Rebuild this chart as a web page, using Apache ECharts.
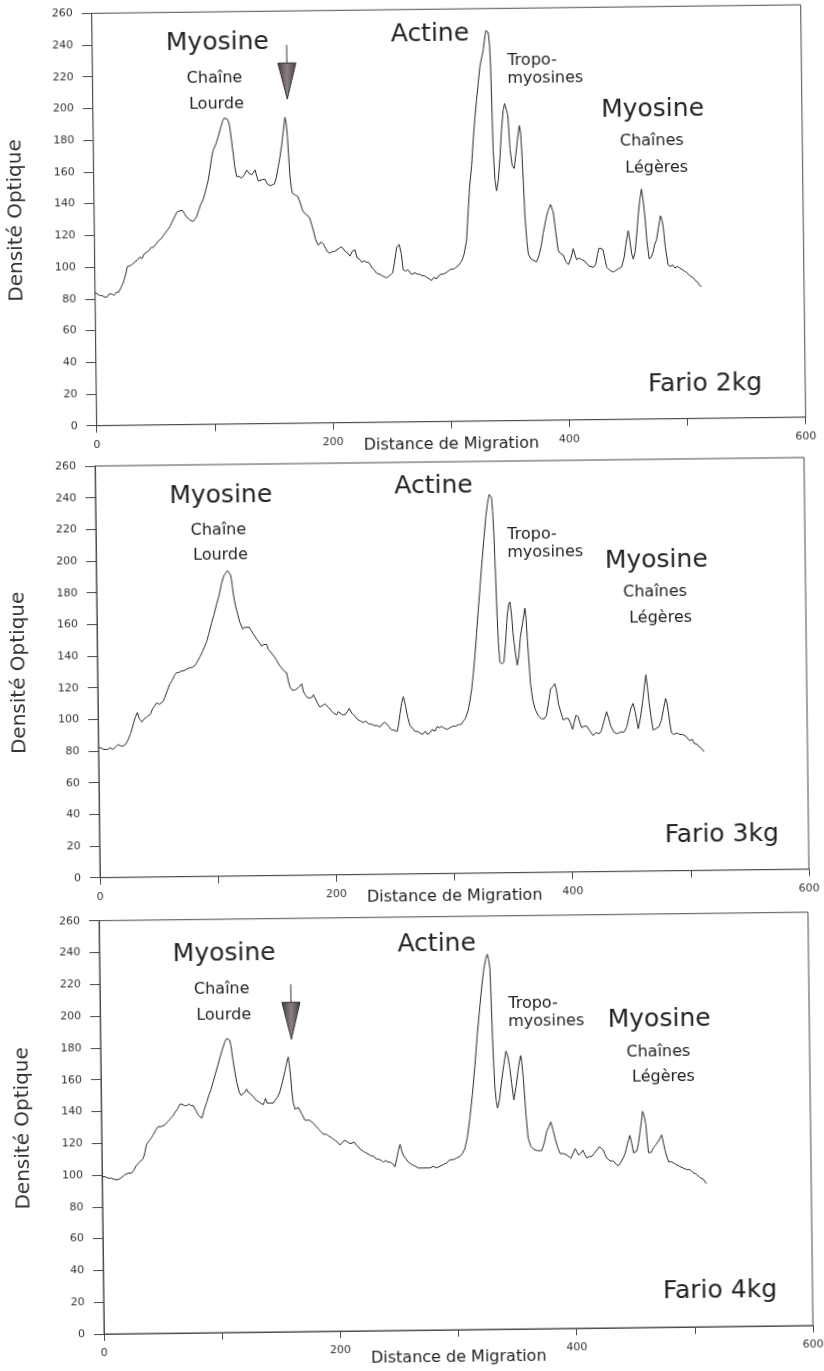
<!DOCTYPE html>
<html><head><meta charset="utf-8">
<script src="https://cdn.jsdelivr.net/npm/echarts@6/dist/echarts.min.js"></script>
<style>
html,body{margin:0;padding:0;background:#fff;width:824px;height:1371px;overflow:hidden;}
.c{position:absolute;left:0;width:824px;}
</style></head><body>
<div id="c1" class="c"></div><div id="c2" class="c"></div><div id="c3" class="c"></div>
<script>
// ---------- DATA ----------
const xTickLabels = [0, 200, 400, 600];
const yMax = 260;

// Fario 2kg
const fario2_x = [0,2,4,6,8,10,12,14,16,18,20,22,24,26,27.5,29,31,32.6,34,36,38.3,40,42,44,46,48,49.7,52,54,56,58,60,62,64,66,68,70,71.2,73,74.9,76.5,78,79.6,81,82.5,83.7,85,86.7,88.5,90.5,92.5,94.5,96.9,98.5,100,101.4,102.5,104,106,108,109.6,111,112.5,114,115.3,116.5,117.5,118.4,119.5,121,123,125.2,127.5,129.5,131.5,133.8,135.2,136.6,138,139.4,141,143,145.1,147,149.4,151,152.8,154.5,156.3,157.8,159.3,161,162.4,163.4,164.3,165.2,166,167,168,170,172.6,174.5,176.5,178.5,180.5,182.5,184,185.5,187,189.3,191.5,193.5,195.5,197,199,201,203,205,207,209,210.4,212,214,216,218,220.3,222,224,226,228,229.8,231.7,233.5,235,236.7,238.4,240,242,244,246.9,248.5,250.3,252,253.5,255.6,257.8,259.5,261,263,265,266.6,268,269.4,271,273,275,277,279,281,283,284.9,287,289,291,293,295,297.6,299.5,301.5,303.5,305.5,307.5,310.5,312.5,314.9,316.5,318,319.9,321.5,323,324.8,326.5,328,329.5,330.9,332,333.3,335.3,336.3,337,338.3,339.5,340.8,342.2,343.9,345.5,347.2,348.5,349.6,351,352.6,354.2,355.9,357.5,358.9,360.6,361.6,362.5,363.5,364.5,366,367,369,371,374,376,378,379.8,382,384,386.3,388.5,390.2,392.3,394.2,396.6,398.5,400.9,403,405,406.5,407.8,410,412,414.8,418,421.8,424,425.5,426.7,428.5,430.3,431.8,433.2,436,438.8,441,443,445.8,448,450,451.7,453,454.5,455.8,457.5,459,460.3,461.8,463.4,464.7,466,467.5,469.2,471,472.5,474,475.6,477.5,479.2,480.5,481.4,483,485.2,487,489,491,493,495,497,499,501,503.5,506,508,510,511.5,513.3];
const fario2_y = [84,83,82,82,81,81,83,83,82,84,84,87,90,95,100,99,101,100,103,104,106,105,108,109,110,112,112,114,116,117,119,121,123,125,128,131,134,135,135,135,133,131,130,129,129,128,129,131,135,139,142,147,154,161,168,173,174,177,182,187,191,193,193,192,189,182,175,170,162,156,156,155,157,160,158,157,157,160,156,153,154,154,154,151,150,150,151,155,162,168,175,185,193,189,181,168,157,149,145,144,143,139,134,132,131,129,128,121,116,112,114,113,110,108,107,108,108,109,110,111,110,108,107,105,108,109,104,103,101,102,101,101,99,97,96,94,95,93,92,91,92,93,94,100,110,112,106,96,95,96,95,93,93,94,93,93,92,92,91,90,89,91,90,92,93,93,94,95,96,96,97,98,101,105,114,132,148,161,177,190,203,214,224,229,234,240,246,245,237,223,171,152,145,151,165,183,196,200,201,193,171,161,159,168,177,186,182,170,150,129,112,105,102,101,100,104,110,118,126,132,136,131,120,107,105,104,100,98,102,108,104,101,102,101,100,97,96,98,104,108,108,107,101,96,94,93,94,95,96,102,112,119,113,104,101,106,117,128,138,145,138,128,112,101,102,105,110,113,121,128,125,121,108,97,96,97,95,96,95,94,93,92,90,89,87,86,84,83];

// Fario 3kg
const fario3_x = [0,2,4,6,8,10,12,14,16.8,19,21,23,25.3,27.5,29.8,31.5,33.3,35,37,39,41,42.6,44.5,46,48,49.7,52,55.4,57,59,61.2,63,65,67,69,71,73,75.5,78,80,82,84,85.5,87,89,90.8,92.6,94.5,97,99,101.5,103.5,105.9,108,109.5,111.2,112.5,113.7,114.8,115.7,117.3,119,121,123.3,125,127,128.9,130.5,132,133.6,135.5,137.5,139.2,141,143.4,144.8,146.1,148,150,151.7,153.8,155.9,158,160,161.3,162.7,164.5,166.9,168.5,170.5,172.6,174,175.4,177.5,179.3,181,182.5,183.8,185.5,187.8,190,192,194.9,197,199.5,201.9,203.3,204.7,207,209,211,212.6,214.8,217.4,219.5,222,224.4,226.5,229,231.5,233.5,236,238.5,240.5,242.5,244.2,246.2,248.3,250.5,253,254.4,255.5,257,258.5,260.3,262,263.8,266,268,270,272.2,274.5,276.5,278.5,280.6,282.5,285,287,288.8,290.6,292.5,295,297.6,300,302.5,305,307,309,311,313.3,314.9,316.4,318,319.6,321.1,322.8,324.5,326,328,330.2,331.6,333.2,334.2,335.2,336,336.8,337.8,338.7,339.6,340.6,342.3,344,345.5,347.2,348.4,349.6,350.8,352,353.6,355.2,356.7,358.2,360.3,362.3,363.2,364,365.2,366.3,368,370,372.5,375.3,377.5,379.5,381.5,383.2,385,386.9,388.3,389.8,391.7,393.6,395.8,397.9,399.7,401.5,403,404.5,406.3,407.8,409.2,411.2,413.4,416,418.8,421.3,423.9,425.8,428,430.4,432,433.7,436.3,438.9,442,445,447.2,449.4,451,452.8,454.5,457,459,460.8,462.5,464,465.2,466.5,468,469.6,472,474.5,476.6,478.5,480.4,481.5,482.5,484,485.2,487,489.5,492.3,494.5,497,500.6,502.5,504.5,506.3,508.5,510.5,512.3];
const fario3_y = [82,82,81,81,81,82,81,82,84,83,83,84,87,91,97,101,104,100,98,100,101,102,103,106,108,110,109,111,114,118,122,124,127,129,129,130,130,131,132,132,133,135,136,139,142,145,148,153,160,165,172,177,185,190,191,193,192,190,184,178,171,166,160,156,157,157,157,155,153,152,149,147,145,146,146,143,142,140,138,136,133,131,129,128,123,119,117,117,118,119,121,116,114,112,112,112,114,113,109,106,107,108,106,104,102,101,103,104,101,101,103,105,102,100,98,97,96,97,95,95,94,94,93,95,96,95,93,91,91,90,95,101,108,112,106,99,94,92,90,90,89,88,90,88,89,91,90,93,92,93,92,91,92,93,93,94,94,96,98,103,109,116,126,138,151,166,180,193,209,225,233,239,239,237,228,214,188,162,144,133,132,133,145,162,169,171,164,151,140,131,137,149,158,167,160,148,133,119,109,103,99,97,97,99,108,116,117,119,114,106,101,96,97,97,94,90,95,99,98,94,91,92,92,89,86,88,87,89,95,101,97,92,88,87,88,88,91,98,103,106,101,90,97,106,116,124,116,106,97,89,90,91,95,102,109,106,101,92,87,86,87,86,86,85,82,83,80,80,78,77,75];

// Fario 4kg
const fario4_x = [0,2.5,5,8,11,13.6,16,19.3,22,25,27,29.4,32,35,36.5,37.9,40,42,43.7,46,48,50.5,53.6,56,58.5,60.8,62.5,64.5,66.6,68.5,70.5,72.3,74,76,77.9,80,82,83.5,85,87,89.3,91,93,95,97,99,100.9,103,105.3,106.8,108.1,109.2,110.2,111.8,113.4,115,117,118.5,120,121.6,123.2,124.5,126.5,128.8,131,133,135,137.2,138.2,139.2,140.3,141.4,143.5,145.6,147.5,149.5,151.3,153.5,155.8,157.3,158.7,159.6,160.5,161.5,162.5,164,165.4,166.8,168.2,170.3,172.2,174,176,179.3,181.5,184,186.2,188,190,191.8,194,195.5,197.4,199.5,201.6,203.8,205.9,208,209.8,211.5,213.5,215.3,217,219,221.3,223.5,226,227.8,229.9,232,234,236.5,238.3,240.2,242,243.9,245.9,247.9,249.5,250.9,252.4,253.8,255.2,257.2,259,260.8,263,265.5,267.8,269.1,271.5,274.2,277.6,280.2,283,286,288.8,291.5,294.5,297.3,300,303,305.3,307.3,309.5,311.8,314.2,316.6,319,321.5,323.4,325.2,326.8,328.1,329.2,330.3,331,331.8,332.6,333.3,334.4,335.4,337.2,339,341,343,344.4,345.8,347.5,349.2,351.1,353,354.2,355.4,356.4,357.5,359.2,360.9,363,365.2,368.8,372.3,374.5,376.6,378.5,380.3,382,383.6,385.8,387.9,390.7,393.5,395.2,396.9,398.7,400.6,402,403.4,405.2,407.1,408.8,410.5,412.6,414.7,416.8,419,421,422.7,424.4,425.8,427.2,430,432.8,435,437,439,441.3,443,445,447,448.5,449.9,451.3,452.7,454.2,455.6,456.8,458,459.3,460.6,461.6,462.6,464.8,466.9,469,471,472.5,473.9,475.3,476.7,478.2,479.6,482,484.3,486.6,489,491.8,494.7,497.5,500.3,503.1,505.8,508.5,511.4];
const fario4_y = [99,99,98,98,97,97,98,100,101,101,103,106,108,110,114,119,121,123,125,128,130,130,131,133,135,137,139,141,144,144,143,143,144,143,143,140,137,136,135,140,145,149,153,158,163,168,173,178,183,185,184,184,181,172,164,157,151,149,148,151,153,151,150,148,146,145,144,143,145,147,144,143,144,144,146,148,151,157,164,169,173,168,161,151,144,140,140,141,141,136,133,133,133,131,129,127,125,124,124,123,122,122,120,119,117,119,120,119,118,118,119,117,116,114,113,112,111,110,110,108,108,107,106,107,106,106,105,103,108,113,117,113,110,108,106,105,104,103,102,103,102,102,102,103,102,103,104,105,107,107,108,109,111,114,121,133,148,166,186,204,217,227,233,236,233,227,207,183,165,152,143,139,145,156,166,175,172,166,155,144,152,162,168,172,167,157,136,120,115,113,112,112,117,124,127,130,125,120,114,110,110,109,108,107,110,113,111,109,110,112,109,107,108,108,110,112,114,113,112,109,107,105,105,103,102,104,107,110,116,121,116,110,110,111,116,123,129,136,133,128,118,110,110,113,115,117,119,121,116,111,107,104,104,103,102,101,100,99,99,97,96,94,93,90];

// annotations: [text, x, y, fontSize, align]
const notes2 = [["Myosine",106,240.4,25,"center"],["Chaîne",103.2,218.3,16,"center"],["Lourde",104.7,201.6,16,"center"],["Actine",286,243.8,25,"center"],["Tropo-",351.2,226.8,16,"left"],["myosines",351,215.5,16,"left"],["Myosine",473.6,194.8,25,"center"],["Chaînes",472.6,175.3,16,"center"],["Légères",476.5,158.3,16,"center"],["Fario 2kg",515.2,21.7,25,"center"]];
const notes3 = [["Myosine",106.1,240,25,"center"],["Chaîne",103.7,218.5,16,"center"],["Lourde",105.3,202.4,16,"center"],["Actine",286.2,244.6,25,"center"],["Tropo-",348.1,213.6,16,"left"],["myosines",348,202.2,16,"left"],["Myosine",474,196.2,25,"center"],["Chaînes",472.6,175.8,16,"center"],["Légères",477,159.5,16,"center"],["Fario 3kg",526.6,22.4,25,"center"]];
const notes4 = [["Myosine",105.6,238.3,25,"center"],["Chaîne",103.1,216,16,"center"],["Lourde",104.6,199.8,16,"center"],["Actine",285.5,242.2,25,"center"],["Tropo-",345.5,204.5,16,"left"],["myosines",345.3,193.5,16,"left"],["Myosine",473,193.4,25,"center"],["Chaînes",472,173.2,16,"center"],["Légères",476,157.6,16,"center"],["Fario 4kg",521.7,22.3,25,"center"]];
// arrows: [x, lineTopY, triangleTopY, tipY]
const arrow2 = [164.6, 238.6, 227.2, 204.5];
const arrow4 = [161.6, 218.7, 207.2, 184];

// ---------- LAYOUT ----------
const FONT = "'DejaVu Sans', 'Liberation Sans', Arial, sans-serif";
const panels = [
  {id:'c1', top:0,   h:475, ox:96.7, oy:425.7, ph:412.4, xs:fario2_x, ys:fario2_y, notes:notes2, arrow:arrow2, nameGap:15},
  {id:'c2', top:455, h:475, ox:100,  oy:422.7, ph:411.7, xs:fario3_x, ys:fario3_y, notes:notes3, arrow:null,   nameGap:15},
  {id:'c3', top:910, h:461, ox:104,  oy:424,   ph:413.3, xs:fario4_x, ys:fario4_y, notes:notes4, arrow:arrow4, nameGap:20}
];
const PW = 709, ROT = -0.69;
const axisColor = '#4a4a4a';

panels.forEach(p => {
  const el = document.getElementById(p.id);
  el.style.top = p.top + 'px';
  el.style.height = p.h + 'px';
  el.style.transformOrigin = p.ox + 'px ' + p.oy + 'px';
  el.style.transform = 'rotate(' + ROT + 'deg)';
  const chart = echarts.init(el, null, {renderer:'canvas'});
  const pts = p.xs.map((x, i) => [x, p.ys[i]]);
  chart.setOption({
    animation:false,
    backgroundColor:'transparent',
    grid:{left:p.ox, top:p.oy - p.ph, width:PW, height:p.ph, containLabel:false, outerBoundsMode:'none',
      show:true, borderColor:axisColor, borderWidth:1, backgroundColor:'transparent'},
    xAxis:{type:'value', min:0, max:600, interval:100,
      name:'Distance de Migration', nameLocation:'middle', nameGap:p.nameGap, nameMoveOverlap:false,
      nameTextStyle:{fontFamily:FONT, fontSize:16, color:'#222'},
      axisLine:{show:true, onZero:false, lineStyle:{color:axisColor, width:1}},
      axisTick:{show:true, length:7, lineStyle:{color:axisColor, width:1}},
      axisLabel:{fontFamily:FONT, fontSize:11, color:'#333', margin:14,
        formatter: v => xTickLabels.indexOf(v) >= 0 ? String(v) : ''},
      splitLine:{show:false}},
    yAxis:{type:'value', min:0, max:yMax, interval:20,
      name:'Densité Optique', nameLocation:'middle', nameGap:68, nameMoveOverlap:false,
      nameTextStyle:{fontFamily:FONT, fontSize:20, color:'#333'},
      axisLine:{show:true, onZero:false, lineStyle:{color:axisColor, width:1}},
      axisTick:{show:true, length:10, lineStyle:{color:axisColor, width:1}},
      axisLabel:{fontFamily:FONT, fontSize:11, color:'#333', margin:19},
      splitLine:{show:false}},
    series:[{type:'line', data:pts, showSymbol:false, symbol:'none', smooth:false,
      lineStyle:{color:'#2b2b2b', width:1}, silent:true}]
  });
  const g = [];
  p.notes.forEach(n => {
    const [px, py] = chart.convertToPixel({gridIndex:0}, [n[1], n[2]]);
    g.push({type:'text', x:px, y:py, silent:true,
      style:{text:n[0], fontFamily:FONT, fontSize:n[3], fill:'#222', align:n[4], verticalAlign:'middle'}});
  });
  if (p.arrow) {
    const a = p.arrow;
    const t0 = chart.convertToPixel({gridIndex:0}, [a[0], a[1]]);
    const t1 = chart.convertToPixel({gridIndex:0}, [a[0], a[2]]);
    const t2 = chart.convertToPixel({gridIndex:0}, [a[0], a[3]]);
    g.push({type:'line', silent:true, shape:{x1:t0[0], y1:t0[1], x2:t1[0], y2:t1[1]}, style:{stroke:'#333', lineWidth:1}});
    g.push({type:'polygon', silent:true, shape:{points:[[t1[0]-9, t1[1]], [t1[0]+9, t1[1]], [t2[0], t2[1]]]},
      style:{fill:new echarts.graphic.LinearGradient(0,0,1,0,[{offset:0,color:'#3e3e3e'},{offset:0.5,color:'#8c7f7f'},{offset:1,color:'#3e3e3e'}]), stroke:'#333', lineWidth:1}});
  }
  chart.setOption({graphic:g});
});
</script>
</body></html>
